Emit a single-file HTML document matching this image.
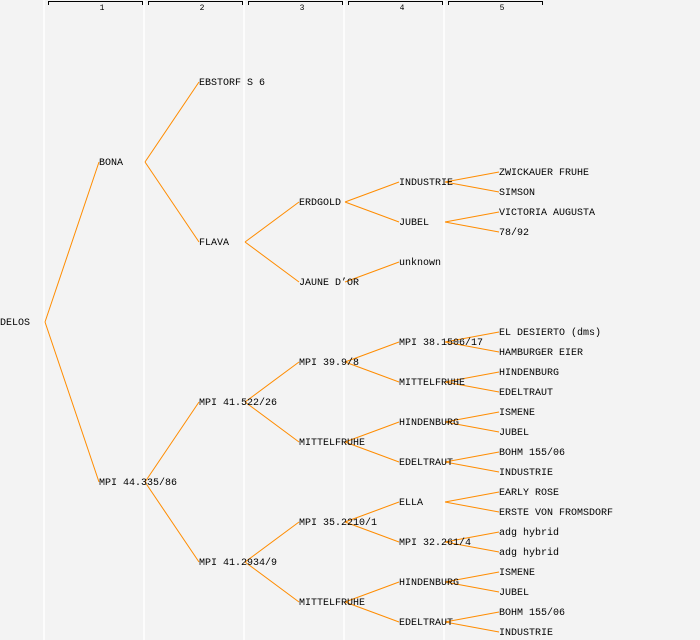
<!DOCTYPE html>
<html><head><meta charset="utf-8"><style>
html,body{margin:0;padding:0;background:#f3f3f3}
svg{display:block}
text{font-family:"Liberation Mono",monospace;font-size:10px;fill:#000}
</style></head><body>
<svg width="700" height="640" xmlns="http://www.w3.org/2000/svg">
<rect width="700" height="640" fill="#f3f3f3"/>
<g stroke="#fff" stroke-width="1.5">
<line x1="44" y1="0" x2="44" y2="640"/><line x1="144" y1="0" x2="144" y2="640"/>
<line x1="244" y1="0" x2="244" y2="640"/><line x1="344" y1="0" x2="344" y2="640"/>
<line x1="444" y1="0" x2="444" y2="640"/>
</g>
<g stroke="#000" stroke-width="1" fill="none">
<path d="M48.5,5V1.5H142.5V5"/><path d="M148.5,5V1.5H242.5V5"/><path d="M248.5,5V1.5H342.5V5"/>
<path d="M348.5,5V1.5H442.5V5"/><path d="M448.5,5V1.5H542.5V5"/>
</g>
<g text-anchor="middle">
<text x="102" y="10" style="font-size:8px">1</text><text x="202" y="10" style="font-size:8px">2</text>
<text x="302" y="10" style="font-size:8px">3</text><text x="402" y="10" style="font-size:8px">4</text>
<text x="502" y="10" style="font-size:8px">5</text>
</g>
<g stroke="#ff8c00" stroke-width="1" fill="none">
<path d="M45,322L99,162M45,322L99,482"/>
<path d="M145,162L199,82M145,162L199,242M145,482L199,402M145,482L199,562"/>
<path d="M245,242L299,202M245,242L299,282M245,402L299,362M245,402L299,442M245,562L299,522M245,562L299,602"/>
<path d="M345,202L399,182M345,202L399,222M345,282L399,262M345,362L399,342M345,362L399,382M345,442L399,422M345,442L399,462M345,522L399,502M345,522L399,542M345,602L399,582M345,602L399,622"/>
<path d="M445,182L499,172M445,182L499,192M445,222L499,212M445,222L499,232M445,342L499,332M445,342L499,352M445,382L499,372M445,382L499,392M445,422L499,412M445,422L499,432M445,462L499,452M445,462L499,472M445,502L499,492M445,502L499,512M445,542L499,532M445,542L499,552M445,582L499,572M445,582L499,592M445,622L499,612M445,622L499,632"/>
</g>
<g transform="translate(0,-1)">
<text x="0" y="326">DELOS</text>
<text x="99" y="166">BONA</text><text x="99" y="486">MPI 44.335/86</text>
<text x="199" y="86">EBSTORF S 6</text><text x="199" y="246">FLAVA</text><text x="199" y="406">MPI 41.522/26</text><text x="199" y="566">MPI 41.2934/9</text>
<text x="299" y="206">ERDGOLD</text><text x="299" y="286">JAUNE D’OR</text><text x="299" y="366">MPI 39.9/8</text><text x="299" y="446">MITTELFRUHE</text><text x="299" y="526">MPI 35.2210/1</text><text x="299" y="606">MITTELFRUHE</text>
<text x="399" y="186">INDUSTRIE</text><text x="399" y="226">JUBEL</text><text x="399" y="266">unknown</text><text x="399" y="346">MPI 38.1506/17</text><text x="399" y="386">MITTELFRUHE</text><text x="399" y="426">HINDENBURG</text><text x="399" y="466">EDELTRAUT</text><text x="399" y="506">ELLA</text><text x="399" y="546">MPI 32.261/4</text><text x="399" y="586">HINDENBURG</text><text x="399" y="626">EDELTRAUT</text>
<text x="499" y="176">ZWICKAUER FRUHE</text><text x="499" y="196">SIMSON</text><text x="499" y="216">VICTORIA AUGUSTA</text><text x="499" y="236">78/92</text>
<text x="499" y="336">EL DESIERTO (dms)</text><text x="499" y="356">HAMBURGER EIER</text><text x="499" y="376">HINDENBURG</text><text x="499" y="396">EDELTRAUT</text>
<text x="499" y="416">ISMENE</text><text x="499" y="436">JUBEL</text><text x="499" y="456">BOHM 155/06</text><text x="499" y="476">INDUSTRIE</text>
<text x="499" y="496">EARLY ROSE</text><text x="499" y="516">ERSTE VON FROMSDORF</text><text x="499" y="536">adg hybrid</text><text x="499" y="556">adg hybrid</text>
<text x="499" y="576">ISMENE</text><text x="499" y="596">JUBEL</text><text x="499" y="616">BOHM 155/06</text><text x="499" y="636">INDUSTRIE</text>
</g>
</svg>
</body></html>
